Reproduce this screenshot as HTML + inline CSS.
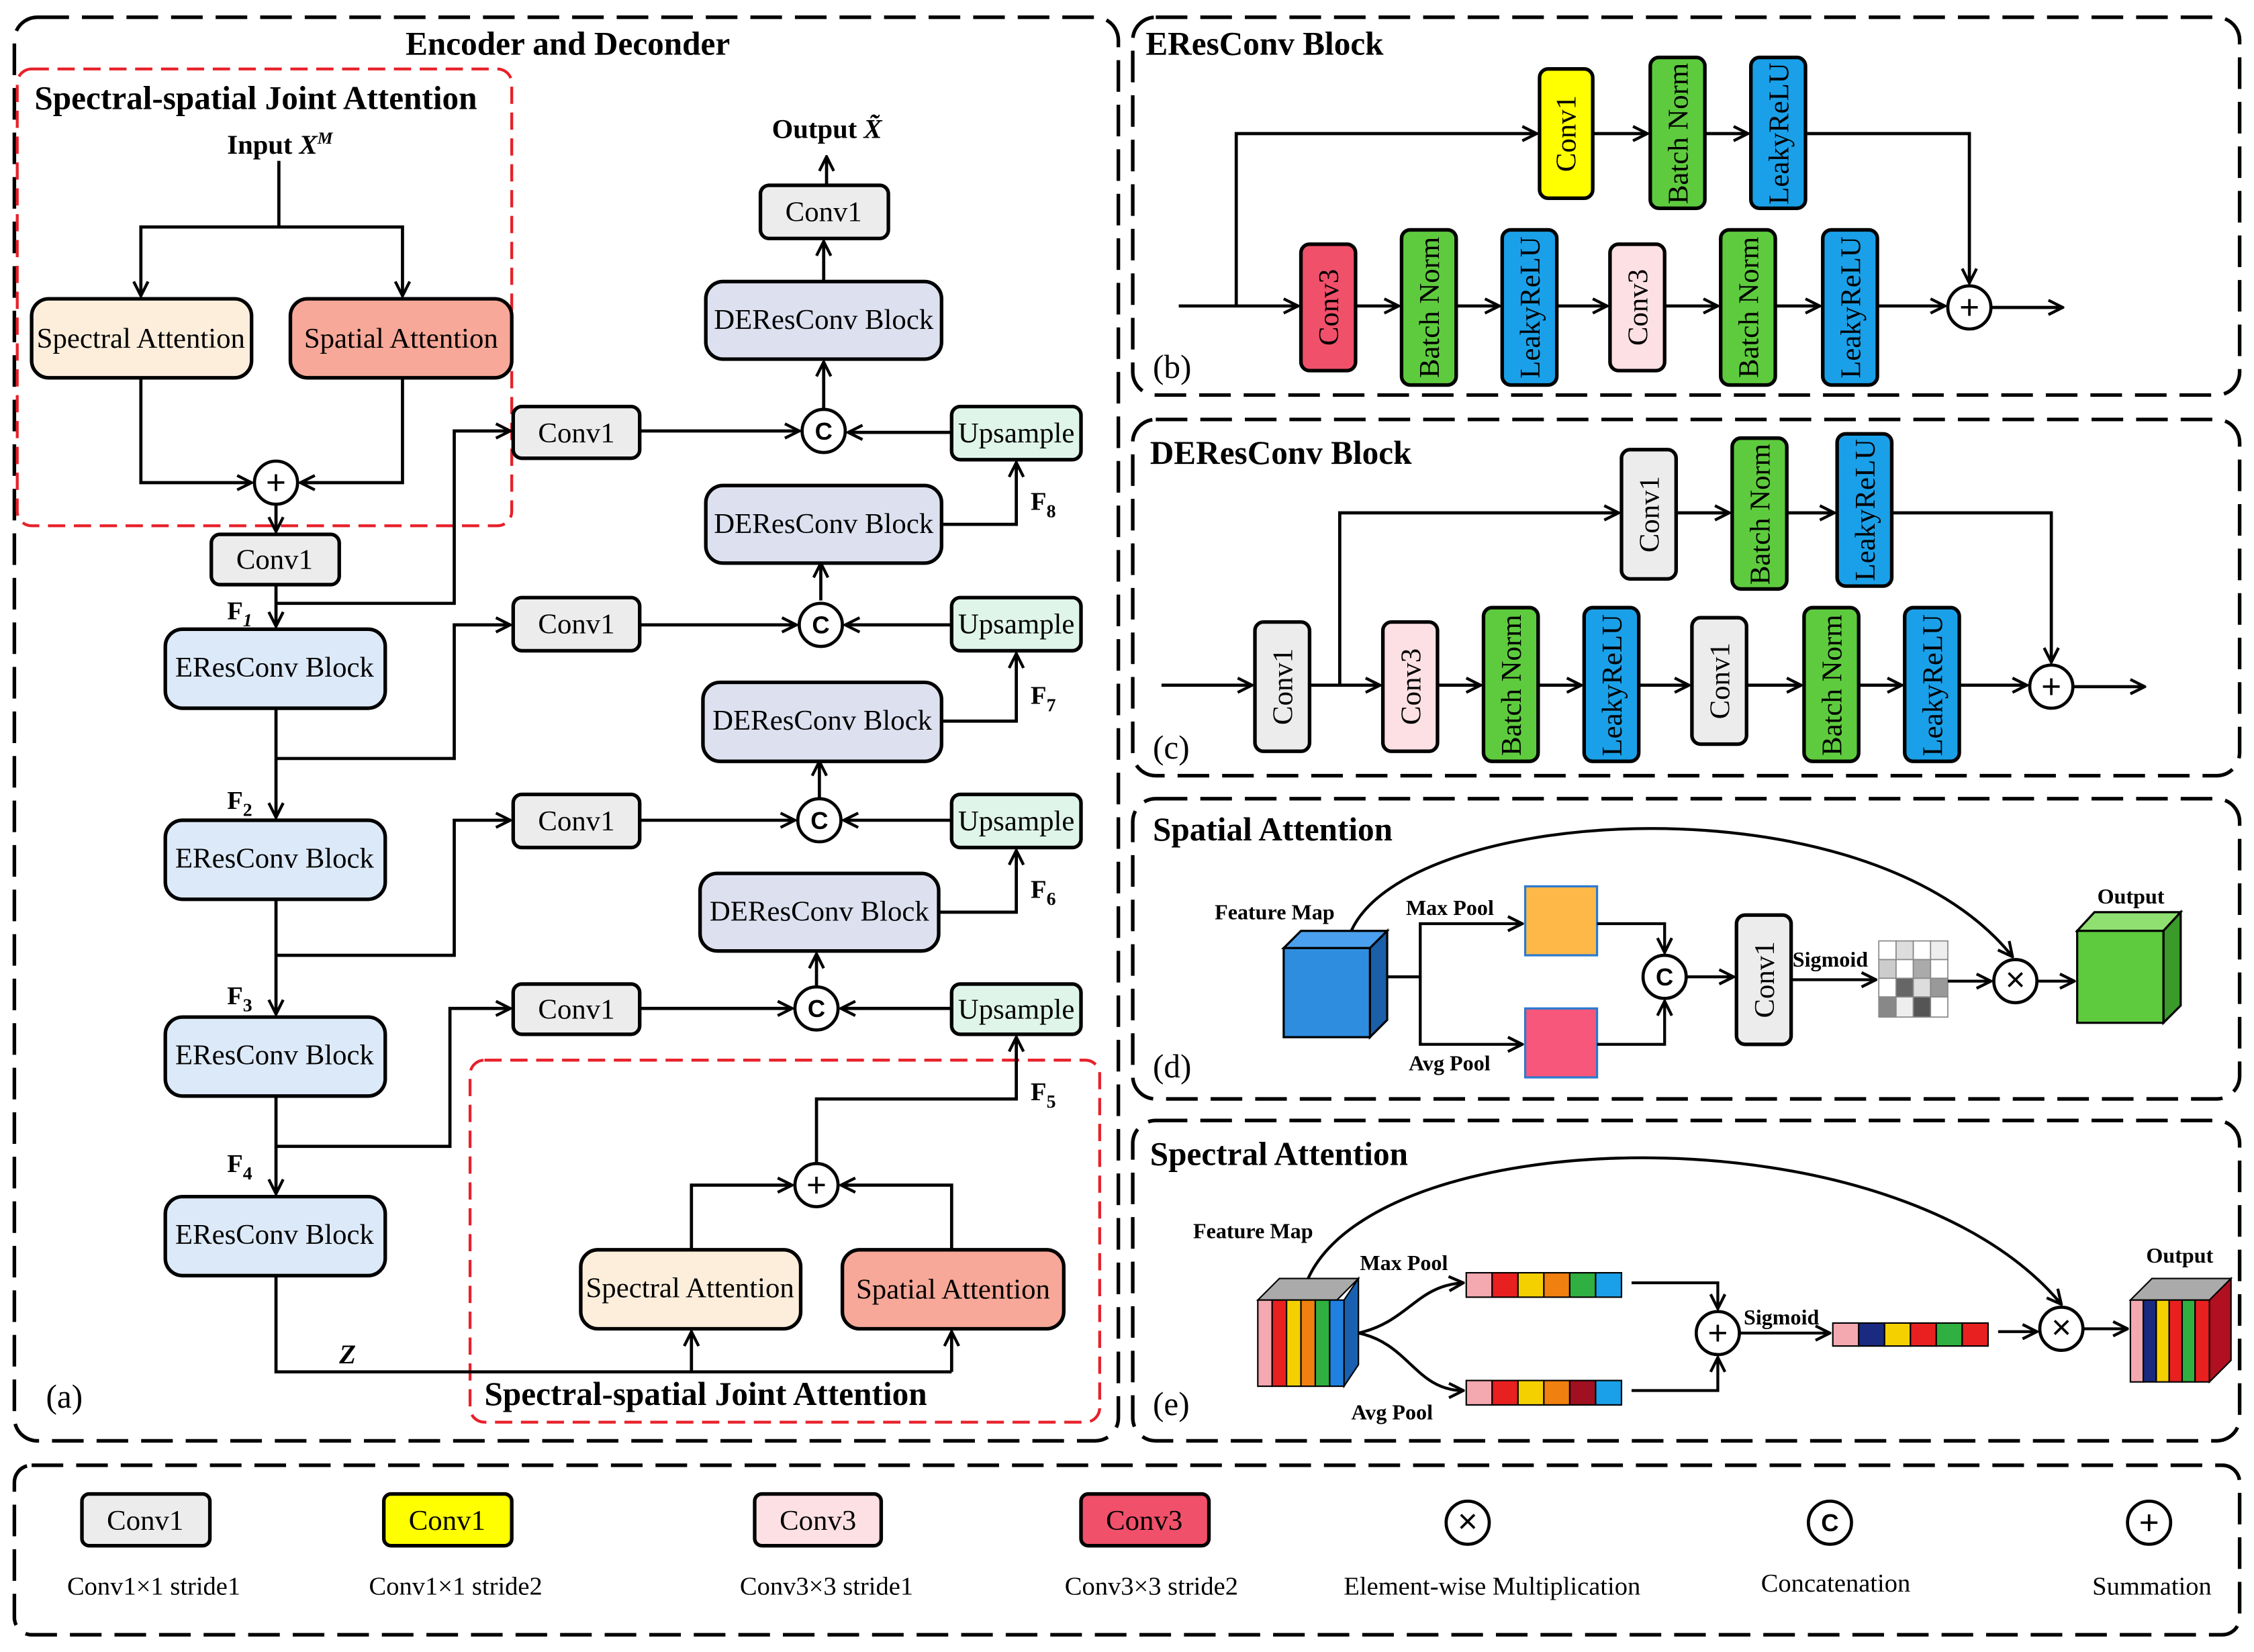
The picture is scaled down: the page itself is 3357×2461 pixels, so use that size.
<!DOCTYPE html>
<html><head><meta charset="utf-8"><style>html,body{margin:0;padding:0;background:#fff}svg{display:block}</style></head>
<body>
<svg xmlns="http://www.w3.org/2000/svg" width="3357" height="2461" viewBox="0 0 1568 1150" preserveAspectRatio="none" font-family="'Liberation Serif', serif">
<defs>
<marker id="a" viewBox="0 0 12 12" refX="11" refY="6" markerWidth="12" markerHeight="12" markerUnits="userSpaceOnUse" orient="auto"><polyline points="1,1 11,6 1,11" fill="none" stroke="#000" stroke-width="2"/></marker>
</defs>
<g fill="none" stroke="#000" stroke-width="2.5" stroke-dasharray="22 9">
<rect x="10" y="12" width="768" height="991" rx="16"/>
<rect x="788" y="12" width="770" height="263" rx="16"/>
<rect x="788" y="292" width="770" height="248" rx="16"/>
<rect x="788" y="556" width="770" height="209" rx="16"/>
<rect x="788" y="780" width="770" height="223" rx="16"/>
<rect x="10" y="1020" width="1548" height="118" rx="12"/>
</g>
<g fill="none" stroke="#e8202a" stroke-width="2" stroke-dasharray="12 6">
<rect x="12" y="48" width="344" height="318" rx="10"/>
<rect x="327" y="738" width="438" height="252" rx="10"/>
</g>
<g font-weight="bold" font-size="23" fill="#000">
<text x="395" y="38" text-anchor="middle">Encoder and Deconder</text>
<text x="24" y="76">Spectral-spatial Joint Attention</text>
<text x="337" y="978">Spectral-spatial Joint Attention</text>
<text x="797" y="38">EResConv Block</text>
<text x="800" y="323">DEResConv Block</text>
<text x="802" y="585">Spatial Attention</text>
<text x="800" y="811">Spectral Attention</text>
<text x="158" y="107" font-size="19">Input <tspan font-style="italic">X<tspan font-size="12" dy="-7">M</tspan></tspan></text>
<text x="537" y="96" font-size="19">Output <tspan font-style="italic">X̃</tspan></text>
<text x="158" y="431" font-size="18">F<tspan font-size="13" dy="5" font-style="italic">1</tspan></text>
<text x="158" y="563" font-size="18">F<tspan font-size="13" dy="5">2</tspan></text>
<text x="158" y="699" font-size="18">F<tspan font-size="13" dy="5">3</tspan></text>
<text x="158" y="816" font-size="18">F<tspan font-size="13" dy="5">4</tspan></text>
<text x="717" y="766" font-size="18">F<tspan font-size="13" dy="5">5</tspan></text>
<text x="717" y="625" font-size="18">F<tspan font-size="13" dy="5">6</tspan></text>
<text x="717" y="490" font-size="18">F<tspan font-size="13" dy="5">7</tspan></text>
<text x="717" y="355" font-size="18">F<tspan font-size="13" dy="5">8</tspan></text>
<text x="236" y="949" font-size="19" font-style="italic">Z</text>
</g>
<g font-size="23" fill="#000">
<text x="32" y="980">(a)</text><text x="802" y="263">(b)</text><text x="802" y="528">(c)</text><text x="802" y="750">(d)</text><text x="802" y="985">(e)</text>
</g>
<g fill="none" stroke="#000" stroke-width="2.2">
<path d="M194 112V158H98V206" marker-end="url(#a)"/><path d="M194 158H280V206" marker-end="url(#a)"/>
<path d="M98 263V336H175" marker-end="url(#a)"/><path d="M280 263V336H209" marker-end="url(#a)"/>
<path d="M192 351V370" marker-end="url(#a)"/>
<path d="M192 407V436" marker-end="url(#a)"/>
<path d="M192 420H316V300H355" marker-end="url(#a)"/>
<path d="M192 493V569" marker-end="url(#a)"/>
<path d="M192 528H316V435H355" marker-end="url(#a)"/>
<path d="M192 626V706" marker-end="url(#a)"/>
<path d="M192 665H316V571H355" marker-end="url(#a)"/>
<path d="M192 763V831" marker-end="url(#a)"/>
<path d="M192 798H313V702H355" marker-end="url(#a)"/>
<path d="M192 888V955H662"/>
<path d="M481 955V927" marker-end="url(#a)"/><path d="M662 955V927" marker-end="url(#a)"/>
<path d="M481 870V825H551" marker-end="url(#a)"/><path d="M662 870V825H585" marker-end="url(#a)"/>
<path d="M568 810V765H707V722" marker-end="url(#a)"/>
<path d="M445 300H556" marker-end="url(#a)"/><path d="M662 301H590" marker-end="url(#a)"/>
<path d="M573 285V252" marker-end="url(#a)"/><path d="M573 196V168" marker-end="url(#a)"/><path d="M575 129V109" marker-end="url(#a)"/>
<path d="M655 365H707V322" marker-end="url(#a)"/>
<path d="M445 435H554" marker-end="url(#a)"/><path d="M662 435H588" marker-end="url(#a)"/><path d="M571 418V392" marker-end="url(#a)"/>
<path d="M655 502H707V455" marker-end="url(#a)"/>
<path d="M445 571H553" marker-end="url(#a)"/><path d="M662 571H587" marker-end="url(#a)"/><path d="M570 555V530" marker-end="url(#a)"/>
<path d="M653 635H707V592" marker-end="url(#a)"/>
<path d="M445 702H551" marker-end="url(#a)"/><path d="M662 702H585" marker-end="url(#a)"/><path d="M568 687V664" marker-end="url(#a)"/>
</g>
<g stroke="#000" stroke-width="2.5" font-size="20" text-anchor="middle">
<rect x="22" y="208" width="153" height="55" rx="12" fill="#fdeedc"/><text x="98" y="242" stroke="none">Spectral Attention</text>
<rect x="202" y="208" width="154" height="55" rx="12" fill="#f7a898"/><text x="279" y="242" stroke="none">Spatial Attention</text>
<rect x="404" y="870" width="153" height="55" rx="12" fill="#fdeedc"/><text x="480" y="903" stroke="none">Spectral Attention</text>
<rect x="586" y="870" width="154" height="55" rx="12" fill="#f7a898"/><text x="663" y="904" stroke="none">Spatial Attention</text>
<rect x="147" y="372" width="89" height="35" rx="6" fill="#ececec"/><text x="191" y="396" stroke="none">Conv1</text>
<rect x="529" y="129" width="89" height="37" rx="6" fill="#ececec"/><text x="573" y="154" stroke="none">Conv1</text>
<rect x="357" y="283" width="88" height="36" rx="6" fill="#ececec"/><text x="401" y="308" stroke="none">Conv1</text>
<rect x="357" y="416" width="88" height="37" rx="6" fill="#ececec"/><text x="401" y="441" stroke="none">Conv1</text>
<rect x="357" y="553" width="88" height="37" rx="6" fill="#ececec"/><text x="401" y="578" stroke="none">Conv1</text>
<rect x="357" y="685" width="88" height="35" rx="6" fill="#ececec"/><text x="401" y="709" stroke="none">Conv1</text>
<rect x="662" y="283" width="90" height="37" rx="6" fill="#dff5ea"/><text x="707" y="308" stroke="none">Upsample</text>
<rect x="662" y="416" width="90" height="37" rx="6" fill="#dff5ea"/><text x="707" y="441" stroke="none">Upsample</text>
<rect x="662" y="553" width="90" height="37" rx="6" fill="#dff5ea"/><text x="707" y="578" stroke="none">Upsample</text>
<rect x="662" y="685" width="90" height="35" rx="6" fill="#dff5ea"/><text x="707" y="709" stroke="none">Upsample</text>
<rect x="491" y="196" width="164" height="54" rx="12" fill="#dde0ef"/><text x="573" y="229" stroke="none">DEResConv Block</text>
<rect x="491" y="338" width="164" height="54" rx="12" fill="#dde0ef"/><text x="573" y="371" stroke="none">DEResConv Block</text>
<rect x="489" y="475" width="166" height="55" rx="12" fill="#dde0ef"/><text x="572" y="508" stroke="none">DEResConv Block</text>
<rect x="487" y="608" width="166" height="54" rx="12" fill="#dde0ef"/><text x="570" y="641" stroke="none">DEResConv Block</text>
<rect x="115" y="438" width="153" height="55" rx="12" fill="#dce9f8"/><text x="191" y="471" stroke="none">EResConv Block</text>
<rect x="115" y="571" width="153" height="55" rx="12" fill="#dce9f8"/><text x="191" y="604" stroke="none">EResConv Block</text>
<rect x="115" y="708" width="153" height="55" rx="12" fill="#dce9f8"/><text x="191" y="741" stroke="none">EResConv Block</text>
<rect x="115" y="833" width="153" height="55" rx="12" fill="#dce9f8"/><text x="191" y="866" stroke="none">EResConv Block</text>
</g>
<g stroke="#000" stroke-width="2.2" fill="#fff">
<circle cx="192" cy="336" r="15"/><circle cx="568" cy="825" r="15"/>
<circle cx="573" cy="300" r="15"/><circle cx="571" cy="435" r="15"/><circle cx="570" cy="571" r="15"/><circle cx="568" cy="702" r="15"/>
<circle cx="1370" cy="214" r="15"/><circle cx="1427" cy="478" r="15"/>
<circle cx="1158" cy="680" r="15"/><circle cx="1402" cy="683" r="15"/>
<circle cx="1195" cy="928" r="15"/><circle cx="1434" cy="925" r="15"/>
<circle cx="1021" cy="1060" r="15"/><circle cx="1273" cy="1060" r="15"/><circle cx="1495" cy="1060" r="15"/>
</g>
<g font-family="'Liberation Sans', sans-serif" font-weight="bold" font-size="17" text-anchor="middle">
<text x="573" y="306">C</text><text x="571" y="441">C</text><text x="570" y="577">C</text><text x="568" y="708">C</text><text x="1158" y="686">C</text><text x="1273" y="1066">C</text>
</g>
<g font-family="'Liberation Sans', sans-serif" font-size="24" text-anchor="middle">
<text x="192" y="344">+</text><text x="568" y="833">+</text><text x="1370" y="222">+</text><text x="1427" y="486">+</text><text x="1195" y="936">+</text><text x="1495" y="1068">+</text>
<text x="1402" y="690">×</text><text x="1434" y="932">×</text><text x="1021" y="1067">×</text>
</g>
<g fill="none" stroke="#000" stroke-width="2.2">
<path d="M820 213H903" marker-end="url(#a)"/><path d="M860 213V93H1069" marker-end="url(#a)"/>
<path d="M1108 93H1146" marker-end="url(#a)"/><path d="M1186 93H1216" marker-end="url(#a)"/><path d="M1256 93H1370V197" marker-end="url(#a)"/>
<path d="M943 213H973" marker-end="url(#a)"/><path d="M1013 213H1043" marker-end="url(#a)"/><path d="M1083 213H1118" marker-end="url(#a)"/>
<path d="M1158 213H1195" marker-end="url(#a)"/><path d="M1235 213H1266" marker-end="url(#a)"/><path d="M1306 213H1353" marker-end="url(#a)"/><path d="M1385 214H1435" marker-end="url(#a)"/>
<path d="M808 477H871" marker-end="url(#a)"/><path d="M911 477H960" marker-end="url(#a)"/><path d="M932 477V357H1126" marker-end="url(#a)"/>
<path d="M1166 357H1203" marker-end="url(#a)"/><path d="M1243 357H1276" marker-end="url(#a)"/><path d="M1316 357H1427V461" marker-end="url(#a)"/>
<path d="M1000 477H1030" marker-end="url(#a)"/><path d="M1070 477H1100" marker-end="url(#a)"/><path d="M1140 477H1175" marker-end="url(#a)"/>
<path d="M1215 477H1253" marker-end="url(#a)"/><path d="M1293 477H1323" marker-end="url(#a)"/><path d="M1363 477H1410" marker-end="url(#a)"/><path d="M1442 478H1492" marker-end="url(#a)"/>
</g>
<g stroke="#000" stroke-width="2.5">
<rect x="905" y="170" width="38" height="88" rx="6" fill="#f0506a"/>
<rect x="975" y="160" width="38" height="108" rx="6" fill="#5ecb3e"/>
<rect x="1045" y="160" width="38" height="108" rx="6" fill="#1aa0e8"/>
<rect x="1120" y="170" width="38" height="88" rx="6" fill="#fde0e4"/>
<rect x="1197" y="160" width="38" height="108" rx="6" fill="#5ecb3e"/>
<rect x="1268" y="160" width="38" height="108" rx="6" fill="#1aa0e8"/>
<rect x="1071" y="48" width="37" height="90" rx="6" fill="#ffff00"/>
<rect x="1148" y="40" width="38" height="105" rx="6" fill="#5ecb3e"/>
<rect x="1218" y="40" width="38" height="105" rx="6" fill="#1aa0e8"/>
<rect x="873" y="433" width="38" height="90" rx="6" fill="#ececec"/>
<rect x="962" y="433" width="38" height="90" rx="6" fill="#fde0e4"/>
<rect x="1032" y="423" width="38" height="107" rx="6" fill="#5ecb3e"/>
<rect x="1102" y="423" width="38" height="107" rx="6" fill="#1aa0e8"/>
<rect x="1177" y="430" width="38" height="88" rx="6" fill="#ececec"/>
<rect x="1255" y="423" width="38" height="107" rx="6" fill="#5ecb3e"/>
<rect x="1325" y="423" width="38" height="107" rx="6" fill="#1aa0e8"/>
<rect x="1128" y="313" width="38" height="90" rx="6" fill="#ececec"/>
<rect x="1205" y="305" width="38" height="105" rx="6" fill="#5ecb3e"/>
<rect x="1278" y="302" width="38" height="106" rx="6" fill="#1aa0e8"/>
<rect x="1208" y="637" width="38" height="90" rx="6" fill="#ececec"/>
</g>
<g font-size="20" text-anchor="middle">
<text transform="translate(931,214) rotate(-90)">Conv3</text>
<text transform="translate(1001,214) rotate(-90)">Batch Norm</text>
<text transform="translate(1071,214) rotate(-90)">LeakyReLU</text>
<text transform="translate(1146,214) rotate(-90)">Conv3</text>
<text transform="translate(1223,214) rotate(-90)">Batch Norm</text>
<text transform="translate(1294,214) rotate(-90)">LeakyReLU</text>
<text transform="translate(1096,93) rotate(-90)">Conv1</text>
<text transform="translate(1174,93) rotate(-90)">Batch Norm</text>
<text transform="translate(1244,93) rotate(-90)">LeakyReLU</text>
<text transform="translate(899,478) rotate(-90)">Conv1</text>
<text transform="translate(988,478) rotate(-90)">Conv3</text>
<text transform="translate(1058,477) rotate(-90)">Batch Norm</text>
<text transform="translate(1128,477) rotate(-90)">LeakyReLU</text>
<text transform="translate(1203,474) rotate(-90)">Conv1</text>
<text transform="translate(1281,477) rotate(-90)">Batch Norm</text>
<text transform="translate(1351,477) rotate(-90)">LeakyReLU</text>
<text transform="translate(1154,358) rotate(-90)">Conv1</text>
<text transform="translate(1231,358) rotate(-90)">Batch Norm</text>
<text transform="translate(1304,355) rotate(-90)">LeakyReLU</text>
<text transform="translate(1234,682) rotate(-90)">Conv1</text>
</g>
<g stroke="#000" stroke-width="1.5">
<polygon points="893,660 905,648 965,648 953,660" fill="#4aa0ee"/>
<polygon points="953,660 965,648 965,710 953,722" fill="#1a5fa8"/>
<rect x="893" y="660" width="60" height="62" fill="#2f8de0"/>
<polygon points="1445,648 1457,635 1517,635 1505,648" fill="#8fe070"/>
<polygon points="1505,648 1517,635 1517,700 1505,712" fill="#3a9a2a"/>
<rect x="1445" y="648" width="60" height="64" fill="#5ecb3e"/>
<rect x="1061" y="617" width="50" height="48" fill="#fdb847" stroke="#2a7ad0"/>
<rect x="1061" y="702" width="50" height="48" fill="#f7577a" stroke="#2a7ad0"/>
</g>
<g stroke="#888" stroke-width="0.8">
<rect x="1307" y="655" width="12" height="13" fill="#fff"/><rect x="1319" y="655" width="12" height="13" fill="#ddd"/><rect x="1331" y="655" width="12" height="13" fill="#fff"/><rect x="1343" y="655" width="12" height="13" fill="#eee"/>
<rect x="1307" y="668" width="12" height="13" fill="#ccc"/><rect x="1319" y="668" width="12" height="13" fill="#fff"/><rect x="1331" y="668" width="12" height="13" fill="#aaa"/><rect x="1343" y="668" width="12" height="13" fill="#fff"/>
<rect x="1307" y="681" width="12" height="13" fill="#fff"/><rect x="1319" y="681" width="12" height="13" fill="#666"/><rect x="1331" y="681" width="12" height="13" fill="#ddd"/><rect x="1343" y="681" width="12" height="13" fill="#999"/>
<rect x="1307" y="694" width="12" height="14" fill="#888"/><rect x="1319" y="694" width="12" height="14" fill="#eee"/><rect x="1331" y="694" width="12" height="14" fill="#555"/><rect x="1343" y="694" width="12" height="14" fill="#fff"/>
</g>
<g fill="none" stroke="#000" stroke-width="2">
<path d="M940 648C980 560 1300 540 1400 666" marker-end="url(#a)"/>
<path d="M965 680H988V643H1059" marker-end="url(#a)"/><path d="M988 680V727H1059" marker-end="url(#a)"/>
<path d="M1111 643H1158V663" marker-end="url(#a)"/><path d="M1111 727H1158V697" marker-end="url(#a)"/>
<path d="M1173 680H1206" marker-end="url(#a)"/><path d="M1246 682H1305" marker-end="url(#a)"/>
<path d="M1355 683H1385" marker-end="url(#a)"/><path d="M1417 683H1443" marker-end="url(#a)"/>
</g>
<g font-weight="bold" font-size="15">
<text x="845" y="640">Feature Map</text><text x="978" y="637">Max Pool</text><text x="980" y="745">Avg Pool</text><text x="1247" y="673">Sigmoid</text><text x="1459" y="629">Output</text>
<text x="830" y="862">Feature Map</text><text x="946" y="884">Max Pool</text><text x="940" y="988">Avg Pool</text><text x="1213" y="922">Sigmoid</text><text x="1493" y="879">Output</text>
</g>
<g stroke="#000" stroke-width="1">
<polygon points="875,905 890,890 945,890 930,905" fill="#aaa"/>
<rect x="875" y="905" width="10" height="60" fill="#f4a8b0"/><rect x="885" y="905" width="10" height="60" fill="#e82020"/><rect x="895" y="905" width="10" height="60" fill="#f5d000"/><rect x="905" y="905" width="10" height="60" fill="#f08010"/><rect x="915" y="905" width="10" height="60" fill="#30b040"/><rect x="925" y="905" width="10" height="60" fill="#2080e0"/>
<polygon points="935,905 945,890 945,950 935,965" fill="#1a60b0"/>
<polygon points="1482,905 1497,890 1552,890 1537,905" fill="#aaa"/>
<rect x="1482" y="905" width="9" height="57" fill="#f4a8b0"/><rect x="1491" y="905" width="9" height="57" fill="#1a2a80"/><rect x="1500" y="905" width="9" height="57" fill="#f5d000"/><rect x="1509" y="905" width="9" height="57" fill="#e82020"/><rect x="1518" y="905" width="9" height="57" fill="#30b040"/><rect x="1527" y="905" width="10" height="57" fill="#e82020"/>
<polygon points="1537,905 1552,890 1552,947 1537,962" fill="#b01020"/>
</g>
<g stroke="#000" stroke-width="1">
<rect x="1020" y="886" width="18" height="17" fill="#f4a8b0"/><rect x="1038" y="886" width="18" height="17" fill="#e82020"/><rect x="1056" y="886" width="18" height="17" fill="#f5d000"/><rect x="1074" y="886" width="18" height="17" fill="#f08010"/><rect x="1092" y="886" width="18" height="17" fill="#30b040"/><rect x="1110" y="886" width="18" height="17" fill="#1aa0e8"/>
<rect x="1020" y="961" width="18" height="17" fill="#f4a8b0"/><rect x="1038" y="961" width="18" height="17" fill="#e82020"/><rect x="1056" y="961" width="18" height="17" fill="#f5d000"/><rect x="1074" y="961" width="18" height="17" fill="#f08010"/><rect x="1092" y="961" width="18" height="17" fill="#a01020"/><rect x="1110" y="961" width="18" height="17" fill="#1aa0e8"/>
<rect x="1275" y="921" width="18" height="16" fill="#f4a8b0"/><rect x="1293" y="921" width="18" height="16" fill="#1a2a80"/><rect x="1311" y="921" width="18" height="16" fill="#f5d000"/><rect x="1329" y="921" width="18" height="16" fill="#e82020"/><rect x="1347" y="921" width="18" height="16" fill="#30b040"/><rect x="1365" y="921" width="18" height="16" fill="#e82020"/>
</g>
<g fill="none" stroke="#000" stroke-width="2">
<path d="M910 890C960 780 1320 770 1434 908" marker-end="url(#a)"/>
<path d="M945 928C980 920 985 895 1018 893" marker-end="url(#a)"/><path d="M945 928C980 935 985 968 1018 968" marker-end="url(#a)"/>
<path d="M1135 893H1195V911" marker-end="url(#a)"/><path d="M1135 968H1195V945" marker-end="url(#a)"/>
<path d="M1210 928H1273" marker-end="url(#a)"/><path d="M1390 927H1417" marker-end="url(#a)"/><path d="M1449 925H1480" marker-end="url(#a)"/>
</g>
<g stroke="#000" stroke-width="2.5" font-size="20" text-anchor="middle">
<rect x="57" y="1040" width="89" height="36" rx="5" fill="#ececec"/><text x="101" y="1065" stroke="none">Conv1</text>
<rect x="267" y="1040" width="89" height="36" rx="5" fill="#ffff00"/><text x="311" y="1065" stroke="none">Conv1</text>
<rect x="525" y="1040" width="88" height="36" rx="5" fill="#fde0e4"/><text x="569" y="1065" stroke="none">Conv3</text>
<rect x="752" y="1040" width="89" height="36" rx="5" fill="#f0506a"/><text x="796" y="1065" stroke="none">Conv3</text>
</g>
<g font-size="18" text-anchor="middle">
<text x="107" y="1110">Conv1×1 stride1</text><text x="317" y="1110">Conv1×1 stride2</text><text x="575" y="1110">Conv3×3 stride1</text><text x="801" y="1110">Conv3×3 stride2</text>
<text x="1038" y="1110">Element-wise Multiplication</text><text x="1277" y="1108">Concatenation</text><text x="1497" y="1110">Summation</text>
</g>
</svg>
</body></html>
